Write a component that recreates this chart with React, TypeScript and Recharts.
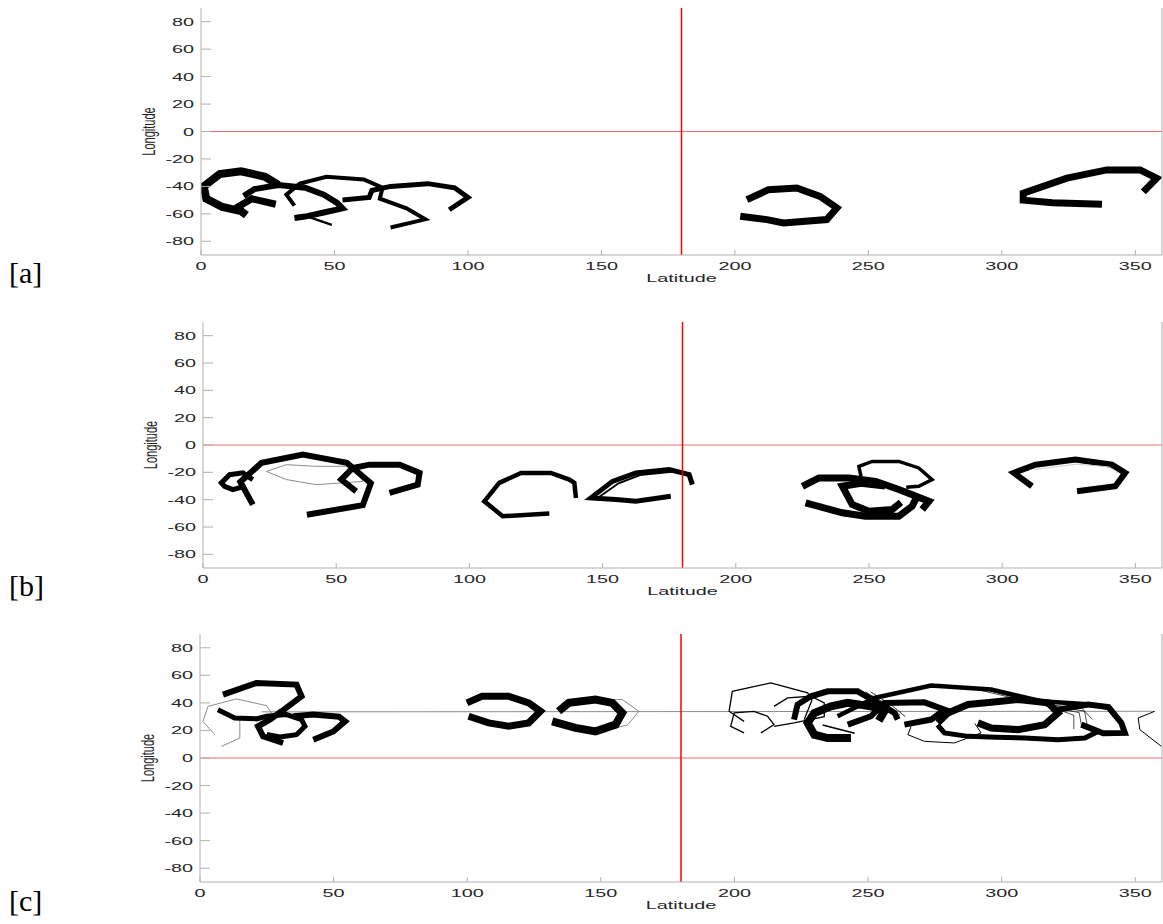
import { LineChart, Line, XAxis, YAxis, ReferenceLine, Label } from "recharts";

type Pt = [number, number];

const xTicks = [0, 50, 100, 150, 200, 250, 300, 350];
const yTicks = [-80, -60, -40, -20, 0, 20, 40, 60, 80];

// ---- panel [a] tracks (latitude, longitude)
const a1: Pt[] = [[29, -39], [24, -33], [15, -29], [7, -31], [1, -40], [2, -49], [8, -55], [15, -58], [17, -61]];
const a1b: Pt[] = [[13, -56], [19, -49], [28, -53]];
const a2: Pt[] = [[16, -47], [20, -42], [29, -39], [39, -41], [46, -46], [51, -52], [53, -56], [46, -59], [39, -62], [35, -63]];
const a2b: Pt[] = [[40, -62], [49, -68]];
const a3: Pt[] = [[35, -54], [32, -46], [37, -38], [47, -33], [61, -35], [68, -41], [67, -49], [77, -56], [84, -64], [71, -70]];
const a4: Pt[] = [[53, -50], [63, -48], [64, -43], [71, -40], [85, -38], [95, -41], [100, -48], [93, -57]];
const a5: Pt[] = [[204.5, -49.7], [212.6, -42.4], [223.2, -41.2], [231.9, -47.3], [238.2, -55.7], [234.4, -64.2], [218.2, -66.6], [212, -64.2], [202, -61.8]];
const a6: Pt[] = [[337.5, -53], [319, -52], [308, -50], [308, -45], [324.4, -34], [339.3, -28], [351.8, -28], [358, -34], [353, -44]];

// ---- panel [b]
const b1: Pt[] = [[18.7, -25.3], [15, -20.4], [10, -21.7], [6.9, -27.7], [8.1, -30.2], [11.2, -32.6], [16, -30]];
const b2: Pt[] = [[18.7, -43.6], [14, -27], [22, -13], [37.5, -7], [54, -13], [63, -28], [60, -44], [39, -51]];
const b3: Pt[] = [[57.5, -33.9], [51.9, -25.3], [56.2, -16.8], [62.5, -14.4], [73.8, -14.4], [81.3, -20.4], [80.6, -29], [70, -35]];
const b4: Pt[] = [[23.8, -19.3], [31.3, -25.3], [42.5, -29], [52.5, -27.7], [60, -26.6], [58, -20], [53.8, -15.6], [42.5, -15.6], [31.3, -14.4], [23.8, -19.3]];
const b5: Pt[] = [[140, -38.7], [139.4, -27.7], [137.5, -25.3], [130.6, -20.4], [119.4, -20.4], [111.2, -27.7], [105.6, -41.2], [112.5, -52.1], [130, -50.1]];
const b6: Pt[] = [[175.6, -37.5], [162.5, -41.2], [155, -39.9], [145.6, -38.7], [153.7, -26.6], [162.5, -20.4], [175, -18], [182.5, -21.7], [183.7, -29]];
const b6b: Pt[] = [[148, -39], [156, -28], [164, -22], [176, -19.5]];
const b7: Pt[] = [[247, -23], [246.2, -15.6], [251.2, -12], [261.2, -12], [268.7, -16.8], [273.7, -25.3], [268.7, -30.2], [264, -31]];
const b8: Pt[] = [[225, -30.2], [231.2, -24.1], [242.5, -24.1], [252.5, -26.6], [261.2, -32.6], [272.5, -41.2], [270, -47.2]];
const b9: Pt[] = [[256, -30], [247, -28], [240, -30.2], [243.7, -43.6], [250, -48.5], [258.7, -47.2], [262, -42]];
const b10: Pt[] = [[226.2, -42.3], [240, -49.6], [248.7, -52.1], [261.2, -52.1], [266.2, -44.8], [268, -38]];
const b11: Pt[] = [[311.2, -30.2], [304.4, -20.4], [312.5, -14.4], [327.5, -10.7], [341.2, -14.4], [346.2, -20.4], [342.5, -30.2], [328.1, -33.9]];
const b11g: Pt[] = [[312, -18], [328, -14], [340, -16], [344, -21]];

// ---- panel [c]
const cg: Pt[] = [[23, 33.5], [357, 33.9]];
const c1: Pt[] = [[8.6, 46], [21.1, 54.5], [36.1, 53.3], [38, 44.8], [30.5, 33.9], [26.1, 27.8], [21.7, 23], [23.6, 15.7], [31.1, 10.9]];
const c2: Pt[] = [[6.7, 35.1], [13, 29.1], [21.1, 28.4], [24.9, 30.3], [32.4, 31.5], [38, 27.9], [39.3, 23], [36.1, 16.9], [29.9, 15.3], [25, 17]];
const c3: Pt[] = [[42.4, 13.3], [49.9, 19.3], [54.3, 26.6], [52, 30], [42.4, 31.5], [34.9, 30.3]];
const c4g: Pt[] = [[5.5, 16.9], [1.1, 26.6], [3, 37.5], [13.6, 42.9], [24.9, 38], [27, 32]];
const c5g: Pt[] = [[8, 8.4], [14.9, 14.5], [14.9, 27.9], [10, 31]];
const c6: Pt[] = [[99.9, 40], [105.5, 44.8], [115.5, 44.8], [123, 40], [127.4, 33.9], [123, 25.5], [115.5, 23], [108, 25.5], [100.5, 30.3]];
const c7: Pt[] = [[134.2, 33.9], [138, 40], [148, 42.4], [154.3, 40], [158, 32.7], [155.5, 24.2], [148, 19.3], [140.5, 21.8], [131.8, 26.6]];
const c7g: Pt[] = [[152, 42], [158, 42.5], [164.2, 33.9], [160, 24], [150, 19]];
const r1: Pt[] = [[203.6, 26.6], [198, 33.9], [199.2, 48.4], [213.6, 54.5], [227.4, 47.3], [229, 42], [226.1, 27.9]];
const r2: Pt[] = [[209.9, 18.2], [214.8, 24.2], [212.4, 30.3], [207.3, 33.9], [199.9, 32.7], [198.6, 23], [203.6, 18.2]];
const r3: Pt[] = [[214.8, 23], [222.3, 25.5], [233.6, 30], [233.6, 40], [228.6, 44.8], [219.9, 43.6], [214.8, 37.5]];
const r4: Pt[] = [[222.3, 27.9], [223.6, 38.8], [228.6, 44.8], [234.9, 48.4], [246.1, 48.4], [253.6, 40], [259.9, 32.7], [261.1, 27.9]];
const r5: Pt[] = [[243.6, 14.5], [234.9, 14.5], [229.9, 16.9], [227.4, 25.5], [229.9, 32.7], [236.1, 37.5], [242.4, 40], [251.1, 37.5], [256.1, 33.9], [254, 27]];
const r6: Pt[] = [[233, 24], [245, 18]];
const r7: Pt[] = [[238.6, 30.3], [252.4, 43.6], [273.6, 52.6], [296.1, 49.7], [314.8, 41.2], [333.5, 38.8], [339.9, 36.4], [343.6, 27.9]];
const r8: Pt[] = [[242.4, 24.2], [251.1, 30.3], [256.1, 40], [271.1, 40.4], [278.6, 35.1], [273.6, 27.9], [263.6, 24.2]];
const r9: Pt[] = [[266.1, 23], [264.9, 16.9], [271.1, 12.1], [282.3, 10.9], [292.3, 18.2], [290, 25]];
const r10: Pt[] = [[276.1, 25.5], [279.9, 32.7], [287.4, 38.8], [296.1, 40.4], [306.1, 42.4], [317.4, 40], [321.1, 32.7], [316.1, 24.2], [306.1, 20.6], [296.1, 21.8], [291.1, 25.5]];
const r11: Pt[] = [[276, 24], [278.6, 18.2], [287.4, 15.7], [298, 15], [308.6, 14.5], [321.1, 13.3], [331.1, 14.5], [336.1, 19.3]];
const r12: Pt[] = [[321.1, 35.1], [332.4, 38.8], [340, 37], [344.8, 25.5], [346.1, 18.2], [338, 18], [329.8, 24.2]];
const r13: Pt[] = [[357.3, 33.9], [351.1, 29.1], [351.7, 20.6], [359.8, 8.4]];
// fanned strands of the long arc and the bundle near 250
const h1: Pt[] = [[288, 51], [312, 40], [330, 36], [334, 28]];
const h2: Pt[] = [[291, 51], [315, 39], [331, 34], [332, 24]];
const h3: Pt[] = [[294, 50], [318, 37], [329, 33], [330, 22]];
const h4: Pt[] = [[298, 49], [320, 36], [327, 31], [327, 21]];
const h5: Pt[] = [[249, 48], [257, 39], [262, 31]];
const h6: Pt[] = [[251, 48], [259, 38], [264, 30]];

type Track = { pts: Pt[]; w: number; c?: string };
const GRAY = "#8c8c8c";

const tracksA: Track[] = [
  { pts: a1, w: 8 }, { pts: a1b, w: 7 }, { pts: a2, w: 6 }, { pts: a2b, w: 2.5 },
  { pts: a3, w: 4 }, { pts: a4, w: 5 }, { pts: a5, w: 7 }, { pts: a6, w: 7 },
];
const tracksB: Track[] = [
  { pts: b4, w: 1, c: GRAY }, { pts: b1, w: 5 }, { pts: b2, w: 6 }, { pts: b3, w: 6 },
  { pts: b5, w: 4.5 }, { pts: b6, w: 5 }, { pts: b6b, w: 2 }, { pts: b7, w: 3.5 }, { pts: b8, w: 7 },
  { pts: b9, w: 7 }, { pts: b10, w: 7 }, { pts: b11, w: 6 }, { pts: b11g, w: 1, c: "#cfcfcf" },
];
const tracksC: Track[] = [
  { pts: cg, w: 1, c: GRAY }, { pts: c4g, w: 1, c: GRAY }, { pts: c5g, w: 1, c: GRAY }, { pts: c7g, w: 1, c: GRAY },
  { pts: c1, w: 6 }, { pts: c2, w: 5 }, { pts: c3, w: 6 }, { pts: c6, w: 7 }, { pts: c7, w: 8 },
  { pts: r1, w: 1.3 }, { pts: r2, w: 1.3 }, { pts: r3, w: 1.3 }, { pts: r4, w: 6 }, { pts: r5, w: 8 },
  { pts: r6, w: 1.5 }, { pts: r7, w: 4.5 }, { pts: r8, w: 6 }, { pts: r9, w: 1 }, { pts: r10, w: 7 },
  { pts: r11, w: 5 }, { pts: r12, w: 6 }, { pts: r13, w: 1 },
  { pts: h1, w: 0.7 }, { pts: h2, w: 0.7 }, { pts: h3, w: 0.7 }, { pts: h4, w: 0.7 }, { pts: h5, w: 0.8 }, { pts: h6, w: 0.8 },
];

const SX = 1.8;
const FONT = "'Liberation Sans', Arial, Helvetica, sans-serif";

function XTick({ x, y, payload }: any) {
  return (
    <text transform={`translate(${x},${y}) scale(${SX},1)`} textAnchor="middle" dy={8} fontSize={11} fill="#262626" fontFamily={FONT}>
      {payload.value}
    </text>
  );
}

function YTick({ x, y, payload }: any) {
  return (
    <text transform={`translate(${x},${y}) scale(${SX},1)`} textAnchor="end" dy={4} fontSize={11} fill="#262626" fontFamily={FONT}>
      {payload.value}
    </text>
  );
}

function LatLabel({ viewBox }: any) {
  const cx = viewBox.x + viewBox.width / 2;
  return (
    <text transform={`translate(${cx},${viewBox.y + 27}) scale(${SX},1)`} textAnchor="middle" fontSize={11} fill="#262626" fontFamily={FONT}>
      Latitude
    </text>
  );
}

function LonLabel({ viewBox }: any) {
  const x = viewBox.x + viewBox.width - 46;
  const y = viewBox.y + viewBox.height / 2;
  return (
    <text transform={`translate(${x},${y}) scale(1.7,1) rotate(-90)`} textAnchor="middle" fontSize={11} fill="#262626" fontFamily={FONT}>
      Longitude
    </text>
  );
}

function Panel({ top, left, right, height, tracks }: { top: number; left: number; right: number; height: number; tracks: Track[] }) {
  const H = height + 8 + 40;
  return (
    <div style={{ position: "absolute", left: 0, top: top - 8 }}>
      <LineChart width={1163} height={H} margin={{ top: 8, right: 1163 - right - 1, bottom: 0, left: 0 }}>
        <XAxis dataKey="x" type="number" domain={[0, 360]} ticks={xTicks} allowDataOverflow height={40}
          tickSize={-5} tickMargin={11.5} tick={<XTick />} stroke="#b0b0b0">
          <Label content={<LatLabel />} />
        </XAxis>
        <XAxis xAxisId="top" orientation="top" dataKey="x" type="number" domain={[0, 360]} ticks={xTicks} allowDataOverflow
          height={0} tickSize={-5} tick={false} stroke="#b0b0b0" />
        <YAxis type="number" domain={[-90, 90]} ticks={yTicks} allowDataOverflow width={left}
          tickSize={-10} tickMargin={17} tick={<YTick />} stroke="#b0b0b0">
          <Label content={<LonLabel />} />
        </YAxis>
        <YAxis yAxisId="right" orientation="right" type="number" domain={[-90, 90]} ticks={yTicks} allowDataOverflow
          width={1} tickSize={-10} tick={false} stroke="#b0b0b0" />
        {tracks.map((t, i) => (
          <Line key={i} data={t.pts.map(([x, y]) => ({ x, y }))} dataKey="y" type="linear" stroke={t.c ?? "#000"}
            strokeWidth={t.w} strokeLinejoin="miter" dot={false} activeDot={false} isAnimationActive={false} />
        ))}
        <ReferenceLine y={0} stroke="#ef6a6a" strokeWidth={1} />
        <ReferenceLine x={180} stroke="#ff0000" strokeWidth={1.5} />
      </LineChart>
    </div>
  );
}

const tagStyle: React.CSSProperties = {
  position: "absolute",
  left: 9,
  fontFamily: "'Liberation Serif', 'DejaVu Serif', serif",
  fontSize: 30,
  lineHeight: "30px",
  color: "#000",
};

export default function App() {
  return (
    <div style={{ position: "absolute", left: 0, top: 0, width: 1163, height: 924, background: "#fff" }}>
      <Panel top={8} left={201} right={1162} height={247} tracks={tracksA} />
      <Panel top={322} left={203} right={1162} height={246} tracks={tracksB} />
      <Panel top={634} left={200} right={1162} height={248} tracks={tracksC} />
      <div style={{ ...tagStyle, top: 258 }}>[a]</div>
      <div style={{ ...tagStyle, top: 571 }}>[b]</div>
      <div style={{ ...tagStyle, top: 886 }}>[c]</div>
    </div>
  );
}
